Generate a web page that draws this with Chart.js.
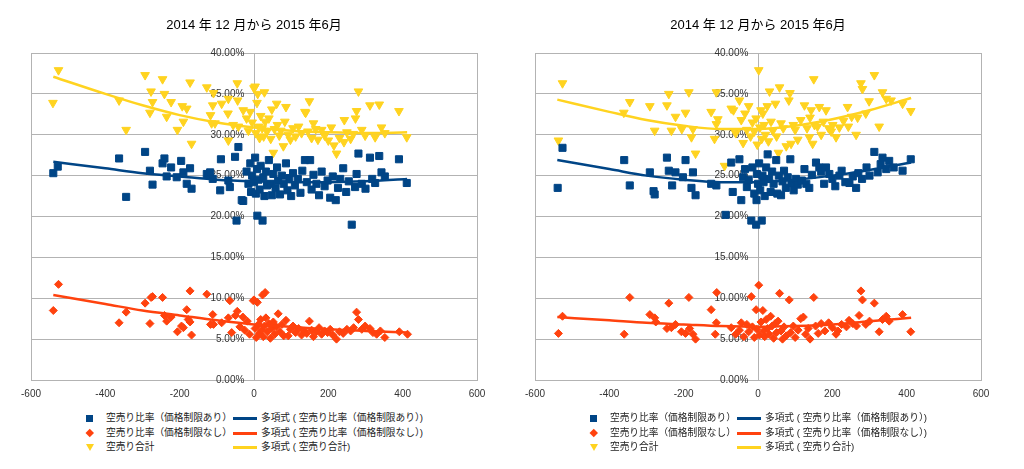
<!DOCTYPE html>
<html>
<head>
<meta charset="utf-8">
<script src="https://cdn.jsdelivr.net/npm/chart.js@4.4.1/dist/chart.umd.min.js"></script>
<style>
  body { margin: 0; width: 1024px; height: 469px; background: #fff; overflow: hidden;
         font-family: "Liberation Sans", "Noto Sans CJK JP", sans-serif; }
  .panel { position: absolute; top: 0; width: 505px; height: 469px; }
  .panel canvas { position: absolute; left: 0; top: 0; }
  .legend { position: absolute; top: 411px; left: 84px; font-size: 9.7px; color: #222; }
  .row { position: relative; height: 14.5px; line-height: 14.5px; white-space: nowrap; }
  .row span { position: absolute; top: 0; }
  .mk { position: absolute; }
  .sq { left: 2px; top: 4px; width: 7px; height: 7px; }
  .dm { left: 3px; top: 4.5px; width: 5.5px; height: 5.5px; transform: rotate(45deg); }
  .tri { left: 2px; top: 4px; width: 0; height: 0; border-left: 4px solid transparent;
         border-right: 4px solid transparent; border-top: 7px solid #ffd320; }
  .ln { left: 149px; top: 6px; width: 24px; height: 3px; }
</style>
</head>
<body>
<div class="panel" id="p1" style="left:0px">
  <canvas id="c1" width="505" height="409"></canvas>
  <div class="legend" id="l1"></div>
</div>
<div class="panel" id="p2" style="left:504px">
  <canvas id="c2" width="505" height="409"></canvas>
  <div class="legend" id="l2"></div>
</div>
<script>
const chartTitle = "2014 年 12 月から 2015 年6月";
const seriesNames = ["空売り比率（価格制限あり）", "空売り比率（価格制限なし）", "空売り合計"];
const trendNames = ["多項式 ( 空売り比率（価格制限あり）)", "多項式 ( 空売り比率（価格制限なし）)", "多項式 ( 空売り合計)"];
const colors = ["#004586", "#ff420e", "#ffd320"];
const xTicks = [-600, -400, -200, 0, 200, 400, 600];
const yTicks = [0, 5, 10, 15, 20, 25, 30, 35, 40];

// left chart: [x, %]
const leftWithLimit = [[-540,25.3],[-528,26.1],[-363,27.1],[-344,22.4],[-293,27.9],[-280,25.6],[-273,23.9],[-246,26.5],[-241,27.1],[-235,24.9],[-223,26.0],[-208,24.8],[-196,26.8],[-190,25.4],[-181,24.0],[-172,25.9],[-168,23.4],[-127,25.2],[-118,25.4],[-111,24.6],[-89,27.0],[-91,23.2],[-69,24.4],[-65,23.6],[-51,27.3],[-42,28.5],[-33,22.0],[-47,19.5],[-29,21.9],[-20,25.5],[-15,24.0],[-10,26.5],[-8,23.0],[-5,25.0],[0,24.2],[3,27.2],[5,22.8],[8,25.8],[9,20.1],[12,24.5],[15,23.3],[18,26.2],[23,19.5],[25,24.8],[28,22.5],[32,25.5],[35,23.8],[40,26.9],[45,24.0],[48,22.6],[52,25.2],[58,23.5],[62,26.0],[65,24.4],[70,22.7],[75,25.0],[80,24.0],[86,26.5],[90,23.2],[95,24.7],[100,22.5],[105,25.3],[110,23.8],[118,24.6],[125,22.9],[130,25.6],[137,26.9],[142,24.2],[151,26.9],[155,23.3],[160,25.1],[168,24.0],[175,22.6],[182,25.5],[190,23.7],[198,24.4],[205,22.3],[212,24.9],[220,22.0],[226,23.5],[232,24.6],[240,25.9],[248,23.0],[255,24.3],[263,19.0],[272,23.6],[276,25.2],[281,27.7],[290,24.0],[300,23.4],[312,27.2],[318,24.6],[326,24.1],[337,27.4],[343,25.4],[352,24.9],[390,27.0],[411,24.1]];
const leftNoLimit = [[-540,8.5],[-526,11.7],[-363,7.0],[-344,8.3],[-293,9.4],[-280,6.9],[-277,10.1],[-273,10.2],[-246,10.1],[-241,7.9],[-235,7.2],[-223,7.7],[-206,5.9],[-195,6.6],[-190,6.4],[-181,8.6],[-177,7.4],[-172,10.9],[-172,7.1],[-168,5.5],[-127,10.5],[-117,6.8],[-111,8.0],[-109,6.8],[-87,7.0],[-69,7.6],[-65,9.7],[-60,5.8],[-50,7.9],[-45,8.4],[-38,6.5],[-30,7.7],[-25,6.1],[-18,7.2],[-12,5.6],[-2,9.7],[0,9.8],[3,6.3],[6,5.2],[9,9.5],[12,6.8],[15,5.7],[18,7.4],[20,6.1],[23,10.4],[25,5.3],[28,6.6],[30,10.7],[32,7.6],[36,5.9],[40,6.9],[44,5.1],[48,6.3],[52,7.1],[56,5.6],[60,6.5],[65,8.1],[70,5.9],[75,6.8],[80,5.4],[86,7.3],[92,5.4],[98,6.2],[105,6.6],[112,5.8],[120,6.3],[128,5.5],[135,6.0],[142,5.7],[149,7.2],[155,6.1],[160,5.3],[168,5.9],[175,6.4],[182,5.6],[190,6.0],[198,5.8],[205,6.2],[212,5.5],[222,5.0],[230,5.9],[240,5.7],[250,6.2],[260,6.0],[268,6.4],[276,8.3],[281,7.4],[290,6.2],[299,6.6],[312,6.3],[320,5.8],[330,5.6],[340,6.0],[352,5.2],[391,5.9],[413,5.6]];
const leftTotal = [[-541,33.9],[-526,37.9],[-363,34.2],[-344,30.6],[-293,37.3],[-280,32.7],[-277,35.3],[-273,34.0],[-246,36.8],[-241,35.0],[-235,32.2],[-223,34.0],[-206,30.6],[-193,33.5],[-190,31.6],[-181,33.2],[-172,36.4],[-168,28.9],[-127,35.8],[-117,32.4],[-114,31.4],[-111,33.6],[-109,35.1],[-105,31.4],[-87,33.8],[-69,34.4],[-70,32.6],[-69,29.3],[-56,31.2],[-45,36.3],[-44,34.2],[-42,31.0],[-29,33.0],[-20,32.0],[-15,30.5],[-10,32.8],[-5,31.5],[0,35.7],[3,35.9],[5,30.2],[8,33.9],[10,35.0],[12,31.0],[15,29.6],[18,32.3],[22,30.8],[26,29.8],[28,35.2],[30,31.6],[35,30.4],[40,32.0],[45,29.5],[48,33.1],[52,27.8],[55,30.7],[61,33.8],[63,31.2],[68,29.9],[72,30.5],[79,28.6],[83,31.6],[86,33.4],[92,30.0],[98,29.4],[105,30.8],[112,29.8],[120,31.0],[128,30.2],[137,32.8],[139,32.7],[145,30.4],[149,34.1],[155,29.6],[160,31.4],[166,30.7],[172,29.4],[182,30.6],[190,29.9],[200,29.3],[208,30.9],[215,28.7],[222,27.7],[230,29.6],[242,29.1],[243,31.8],[250,30.3],[260,29.5],[267,30.1],[273,32.0],[276,32.9],[281,35.3],[290,30.6],[299,29.9],[312,33.6],[326,29.7],[337,33.7],[343,30.9],[352,30.2],[390,32.9],[411,29.7]];

// right chart: [x, %]
const rightWithLimit = [[-539,23.5],[-526,28.4],[-360,26.9],[-345,23.8],[-291,25.4],[-281,23.1],[-278,22.7],[-245,27.2],[-240,25.6],[-231,23.8],[-222,25.4],[-202,24.8],[-195,26.9],[-179,23.5],[-175,25.4],[-168,22.6],[-126,24.0],[-112,23.8],[-87,20.2],[-72,26.6],[-68,23.0],[-50,27.0],[-45,22.0],[-40,24.8],[-35,25.8],[-30,23.6],[-25,24.5],[-18,19.5],[-15,26.0],[-10,22.8],[-5,19.0],[-4,22.0],[-3,25.2],[0,24.0],[3,26.5],[6,23.2],[10,19.5],[12,25.0],[15,24.2],[18,22.5],[22,26.0],[26,27.6],[30,24.6],[34,23.0],[38,25.5],[42,24.0],[49,26.9],[52,22.8],[56,25.0],[62,22.6],[66,24.3],[70,25.6],[75,23.5],[80,24.8],[87,27.0],[90,24.1],[96,23.2],[102,24.6],[107,23.9],[118,24.4],[125,25.8],[130,24.0],[138,23.5],[145,25.1],[156,26.6],[165,26.0],[170,25.5],[178,24.0],[183,26.0],[192,25.2],[200,24.6],[208,23.7],[219,25.0],[225,25.6],[235,24.2],[246,24.1],[255,24.9],[264,23.5],[270,25.3],[280,24.6],[292,26.0],[300,25.0],[313,27.9],[322,25.4],[330,26.4],[335,27.2],[345,25.8],[353,26.8],[365,26.0],[389,25.6],[411,27.0]];
const rightNoLimit = [[-537,5.7],[-526,7.8],[-360,5.6],[-345,10.1],[-291,8.0],[-278,7.6],[-275,7.1],[-245,6.3],[-240,9.4],[-233,6.4],[-222,6.8],[-206,5.9],[-195,5.7],[-186,10.1],[-184,6.3],[-175,5.6],[-168,5.0],[-126,8.6],[-115,5.6],[-112,7.0],[-111,10.7],[-72,6.4],[-60,5.6],[-50,6.1],[-45,7.0],[-38,5.3],[-30,6.8],[-25,5.9],[-18,10.2],[-15,6.5],[-10,5.2],[-5,8.6],[-3,6.2],[2,11.6],[4,5.5],[8,7.1],[13,8.5],[15,6.0],[18,5.3],[22,7.4],[26,6.3],[30,5.6],[34,7.8],[38,6.6],[42,5.1],[46,6.9],[50,5.8],[54,7.2],[58,10.6],[62,6.0],[66,5.0],[70,6.5],[76,5.4],[84,9.8],[88,5.8],[95,6.6],[100,5.2],[108,6.1],[115,7.5],[122,7.7],[128,5.6],[135,6.3],[140,5.0],[150,10.1],[155,6.6],[162,5.7],[170,6.9],[180,6.0],[190,7.0],[200,6.4],[210,5.6],[215,6.0],[225,6.8],[238,6.5],[245,7.3],[255,6.9],[265,6.6],[272,7.9],[277,10.9],[281,9.8],[290,6.8],[300,7.2],[313,9.4],[326,5.9],[335,7.4],[345,7.8],[353,7.2],[389,8.0],[411,5.9]];
const rightTotal = [[-537,29.3],[-526,36.3],[-361,32.7],[-345,34.0],[-291,33.5],[-278,30.5],[-245,33.6],[-240,35.0],[-233,30.5],[-222,32.2],[-205,30.7],[-195,32.7],[-186,35.2],[-179,29.7],[-175,30.7],[-168,27.7],[-126,32.8],[-117,29.5],[-112,35.2],[-112,31.3],[-108,31.9],[-90,26.2],[-72,33.2],[-66,33.0],[-60,30.2],[-50,34.2],[-45,31.8],[-40,29.0],[-35,32.6],[-30,30.6],[-25,33.5],[-20,29.8],[-15,31.5],[-10,30.4],[-5,32.0],[-2,28.8],[2,37.9],[5,30.9],[8,33.0],[10,29.5],[13,32.6],[16,31.2],[20,30.0],[25,33.5],[28,29.2],[31,35.3],[35,31.6],[40,30.5],[47,33.8],[50,29.8],[55,27.8],[58,35.8],[62,31.4],[68,30.8],[76,28.6],[83,34.2],[86,35.1],[89,28.9],[95,31.2],[100,30.6],[107,29.4],[115,31.8],[125,33.6],[132,30.8],[138,29.7],[140,32.1],[143,33.0],[147,28.9],[150,36.8],[152,31.2],[160,31.0],[165,33.4],[170,30.0],[176,31.6],[183,33.0],[190,30.8],[197,30.4],[201,31.2],[210,29.7],[219,30.9],[230,31.7],[241,33.4],[243,31.0],[252,32.2],[264,30.0],[268,32.1],[277,36.3],[281,35.6],[290,32.6],[299,34.1],[313,37.3],[326,31.0],[335,35.2],[345,34.4],[358,34.2],[389,33.8],[411,32.9]];

// trend curves
const trendX = [-540, -400, -300, -200, -100, 0, 100, 200, 300, 412];
const leftWithLimitTrend = [26.7, 25.9, 25.3, 24.9, 24.5, 24.3, 24.2, 24.2, 24.3, 24.6];
const leftNoLimitTrend = [10.4, 9.3, 8.5, 7.9, 7.3, 6.8, 6.5, 6.2, 6.0, 5.8];
const leftTotalTrend = [37.1, 35.0, 33.6, 32.4, 31.5, 30.9, 30.5, 30.3, 30.2, 30.3];
const rightWithLimitTrend = [26.9, 25.8, 25.0, 24.5, 24.2, 24.2, 24.5, 25.0, 25.7, 26.6];
const rightNoLimitTrend = [7.7, 7.3, 7.0, 6.8, 6.6, 6.5, 6.6, 6.8, 7.2, 7.6];
const rightTotalTrend = [34.3, 32.8, 31.8, 31.1, 30.7, 30.7, 31.1, 31.9, 33.0, 34.5];

const fontFam = "'Liberation Sans', 'Noto Sans CJK JP', sans-serif";
const gridColor = "#b3b3b3";

let toPoints = arr => arr.map(p => ({ x: p[0], y: p[1] }));
let toTrend = vals => trendX.map((x, i) => ({ x: x, y: vals[i] }));

let buildLegend = (id) => {
  const shapes = ["sq", "dm", "tri"];
  let html = "";
  for (let i = 0; i < 3; i++) {
    let bg = shapes[i] === "tri" ? "" : "background:" + colors[i];
    html += '<div class="row">' +
      '<div class="mk ' + shapes[i] + '" style="' + bg + '"></div>' +
      '<span style="left:22px">' + seriesNames[i] + '</span>' +
      '<div class="mk ln" style="background:' + colors[i] + '"></div>' +
      '<span style="left:177px">' + trendNames[i] + '</span></div>';
  }
  document.getElementById(id).innerHTML = html;
};

let printTheChart = (canvasId, legendId, scatterSets, trendSets) => {
  const styles = [
    { pointStyle: "rect", radius: 5, rotation: 0 },
    { pointStyle: "rectRot", radius: 4, rotation: 0 },
    { pointStyle: "triangle", radius: 5, rotation: 180 }
  ];
  let datasets = [];
  for (let i = 0; i < 3; i++) {
    datasets.push({
      type: "line",
      label: trendNames[i],
      data: toTrend(trendSets[i]),
      showLine: true,
      borderColor: colors[i],
      borderWidth: 2.5,
      pointRadius: 0,
      cubicInterpolationMode: "monotone",
      order: 0
    });
  }
  for (let i = 0; i < 3; i++) {
    datasets.push({
      label: seriesNames[i],
      data: toPoints(scatterSets[i]),
      backgroundColor: colors[i],
      borderColor: colors[i],
      borderWidth: 1,
      pointStyle: styles[i].pointStyle,
      pointRadius: styles[i].radius,
      pointRotation: styles[i].rotation,
      order: 1 + i
    });
  }
  let ctx = document.getElementById(canvasId).getContext("2d");
  let chart = new Chart(ctx, {
    type: "scatter",
    data: { datasets: datasets },
    options: {
      responsive: false,
      animation: false,
      layout: { padding: { left: 31, right: 28, top: 0, bottom: 1 } },
      plugins: {
        legend: { display: false },
        tooltip: { enabled: false },
        title: {
          display: true,
          text: chartTitle,
          color: "#000",
          font: { family: fontFam, size: 13, weight: "normal" },
          padding: { top: 18, bottom: 19.4 }
        }
      },
      scales: {
        x: {
          type: "linear",
          min: xTicks[0],
          max: xTicks[xTicks.length - 1],
          afterBuildTicks: axis => { axis.ticks = xTicks.map(v => ({ value: v })); },
          grid: {
            drawTicks: false,
            color: c => (c.tick && Math.abs(c.tick.value) === 600) ? gridColor : "rgba(0,0,0,0)"
          },
          border: { display: true, color: gridColor },
          ticks: { color: "#333", padding: 8, font: { family: fontFam, size: 10 } }
        },
        y: {
          type: "linear",
          position: { x: 0 },
          min: 0,
          max: 40,
          afterBuildTicks: axis => { axis.ticks = yTicks.map(v => ({ value: v })); },
          grid: { drawTicks: false, color: gridColor },
          border: { display: true, color: gridColor },
          ticks: { display: false }
        },
        // label-only copy of the y axis, drawn above the points
        yLab: {
          type: "linear",
          axis: "y",
          position: { x: -26 },
          min: 0,
          max: 40,
          z: 1,
          afterBuildTicks: axis => { axis.ticks = yTicks.map(v => ({ value: v })); },
          grid: { display: false, drawTicks: false },
          border: { display: false },
          ticks: {
            color: "#333",
            font: { family: fontFam, size: 10 },
            callback: v => v.toFixed(2) + "%"
          }
        }
      }
    }
  });
  buildLegend(legendId);
  return chart;
};

printTheChart("c1", "l1",
  [leftWithLimit, leftNoLimit, leftTotal],
  [leftWithLimitTrend, leftNoLimitTrend, leftTotalTrend]);
printTheChart("c2", "l2",
  [rightWithLimit, rightNoLimit, rightTotal],
  [rightWithLimitTrend, rightNoLimitTrend, rightTotalTrend]);
</script>
</body>
</html>
